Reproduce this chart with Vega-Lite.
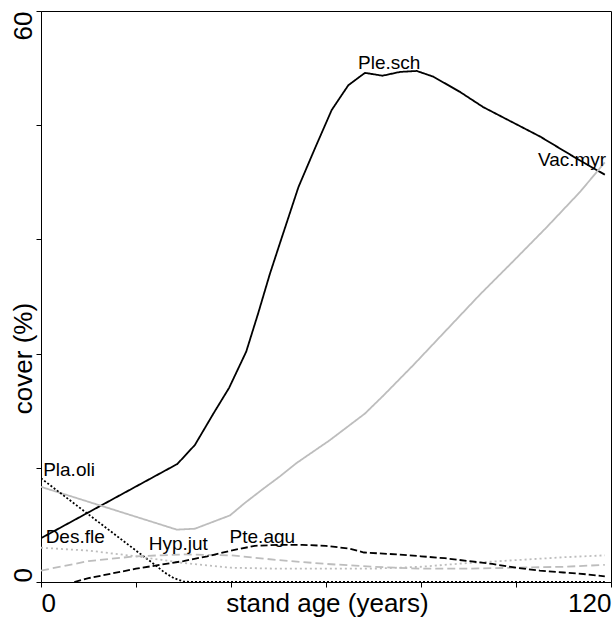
{
  "$schema": "https://vega.github.io/schema/vega-lite/v6.json",
  "width": 570,
  "height": 571,
  "autosize": {"type": "none"},
  "padding": {"left": 41, "top": 11, "right": 2, "bottom": 37},
  "background": "white",
  "config": {
    "font": "Liberation Sans",
    "view": {"stroke": "black", "strokeWidth": 1},
    "axis": {"grid": false, "domainColor": "black", "tickColor": "black", "labelColor": "black", "titleColor": "black", "labelFont": "Liberation Sans", "titleFont": "Liberation Sans", "titleFontWeight": "normal"}
  },
  "datasets": {
    "curves": [
      {"species": "Ple.sch", "age": 0, "cover": 4.6},
      {"species": "Ple.sch", "age": 28.7, "cover": 12.4},
      {"species": "Ple.sch", "age": 32.4, "cover": 14.4},
      {"species": "Ple.sch", "age": 36.3, "cover": 17.7},
      {"species": "Ple.sch", "age": 39.6, "cover": 20.4},
      {"species": "Ple.sch", "age": 43.2, "cover": 24.2},
      {"species": "Ple.sch", "age": 45.7, "cover": 28.2},
      {"species": "Ple.sch", "age": 48.2, "cover": 32.4},
      {"species": "Ple.sch", "age": 50.3, "cover": 35.6},
      {"species": "Ple.sch", "age": 54.2, "cover": 41.5},
      {"species": "Ple.sch", "age": 57.7, "cover": 45.6},
      {"species": "Ple.sch", "age": 61.2, "cover": 49.6},
      {"species": "Ple.sch", "age": 64.7, "cover": 52.2},
      {"species": "Ple.sch", "age": 68.2, "cover": 53.5},
      {"species": "Ple.sch", "age": 71.9, "cover": 53.2},
      {"species": "Ple.sch", "age": 75.6, "cover": 53.6},
      {"species": "Ple.sch", "age": 79.1, "cover": 53.7},
      {"species": "Ple.sch", "age": 82.6, "cover": 53.1},
      {"species": "Ple.sch", "age": 88.2, "cover": 51.5},
      {"species": "Ple.sch", "age": 93.1, "cover": 49.9},
      {"species": "Ple.sch", "age": 105.1, "cover": 46.8},
      {"species": "Ple.sch", "age": 112.1, "cover": 44.7},
      {"species": "Ple.sch", "age": 118.7, "cover": 42.8},
      {"species": "Vac.myr", "age": 0, "cover": 10.0},
      {"species": "Vac.myr", "age": 28.6, "cover": 5.5},
      {"species": "Vac.myr", "age": 32.4, "cover": 5.6},
      {"species": "Vac.myr", "age": 39.8, "cover": 7.0},
      {"species": "Vac.myr", "age": 42.9, "cover": 8.3},
      {"species": "Vac.myr", "age": 46.8, "cover": 9.8},
      {"species": "Vac.myr", "age": 50.3, "cover": 11.1},
      {"species": "Vac.myr", "age": 53.8, "cover": 12.5},
      {"species": "Vac.myr", "age": 60.8, "cover": 14.9},
      {"species": "Vac.myr", "age": 68.2, "cover": 17.7},
      {"species": "Vac.myr", "age": 72.1, "cover": 19.6},
      {"species": "Vac.myr", "age": 78.4, "cover": 22.8},
      {"species": "Vac.myr", "age": 85.4, "cover": 26.5},
      {"species": "Vac.myr", "age": 92.4, "cover": 30.2},
      {"species": "Vac.myr", "age": 99.4, "cover": 33.7},
      {"species": "Vac.myr", "age": 106.5, "cover": 37.3},
      {"species": "Vac.myr", "age": 113.5, "cover": 41.0},
      {"species": "Vac.myr", "age": 118.7, "cover": 44.1},
      {"species": "Pla.oli", "age": 0, "cover": 10.9},
      {"species": "Pla.oli", "age": 5, "cover": 9.0},
      {"species": "Pla.oli", "age": 10, "cover": 7.1},
      {"species": "Pla.oli", "age": 15, "cover": 5.2},
      {"species": "Pla.oli", "age": 20, "cover": 3.3},
      {"species": "Pla.oli", "age": 24, "cover": 1.8},
      {"species": "Pla.oli", "age": 26, "cover": 1.0},
      {"species": "Pla.oli", "age": 28, "cover": 0.4},
      {"species": "Pla.oli", "age": 30, "cover": 0.05},
      {"species": "Pla.oli", "age": 32, "cover": 0},
      {"species": "Pla.oli", "age": 60, "cover": 0},
      {"species": "Pla.oli", "age": 90, "cover": 0},
      {"species": "Pla.oli", "age": 118.7, "cover": 0},
      {"species": "Des.fle", "age": 0, "cover": 3.6},
      {"species": "Des.fle", "age": 10, "cover": 3.3},
      {"species": "Des.fle", "age": 20, "cover": 2.7},
      {"species": "Des.fle", "age": 30, "cover": 2.0},
      {"species": "Des.fle", "age": 40, "cover": 1.5},
      {"species": "Des.fle", "age": 50, "cover": 1.4},
      {"species": "Des.fle", "age": 60, "cover": 1.4},
      {"species": "Des.fle", "age": 70, "cover": 1.4},
      {"species": "Des.fle", "age": 80, "cover": 1.6},
      {"species": "Des.fle", "age": 90, "cover": 2.0},
      {"species": "Des.fle", "age": 100, "cover": 2.3},
      {"species": "Des.fle", "age": 110, "cover": 2.6},
      {"species": "Des.fle", "age": 118.7, "cover": 2.8},
      {"species": "Hyp.jut", "age": 0, "cover": 1.2},
      {"species": "Hyp.jut", "age": 10, "cover": 2.2},
      {"species": "Hyp.jut", "age": 20, "cover": 2.7},
      {"species": "Hyp.jut", "age": 30, "cover": 2.9},
      {"species": "Hyp.jut", "age": 40, "cover": 2.8},
      {"species": "Hyp.jut", "age": 50, "cover": 2.3},
      {"species": "Hyp.jut", "age": 60, "cover": 1.9},
      {"species": "Hyp.jut", "age": 70, "cover": 1.6},
      {"species": "Hyp.jut", "age": 80, "cover": 1.4},
      {"species": "Hyp.jut", "age": 90, "cover": 1.4},
      {"species": "Hyp.jut", "age": 100, "cover": 1.5},
      {"species": "Hyp.jut", "age": 110, "cover": 1.6},
      {"species": "Hyp.jut", "age": 118.7, "cover": 1.8},
      {"species": "Pte.agu", "age": 7, "cover": 0},
      {"species": "Pte.agu", "age": 10, "cover": 0.4},
      {"species": "Pte.agu", "age": 15, "cover": 0.9},
      {"species": "Pte.agu", "age": 20, "cover": 1.4},
      {"species": "Pte.agu", "age": 25, "cover": 1.8},
      {"species": "Pte.agu", "age": 30, "cover": 2.2},
      {"species": "Pte.agu", "age": 35, "cover": 2.7},
      {"species": "Pte.agu", "age": 40, "cover": 3.3},
      {"species": "Pte.agu", "age": 45, "cover": 3.8},
      {"species": "Pte.agu", "age": 50, "cover": 3.9},
      {"species": "Pte.agu", "age": 55, "cover": 3.9},
      {"species": "Pte.agu", "age": 60, "cover": 3.8},
      {"species": "Pte.agu", "age": 65, "cover": 3.5},
      {"species": "Pte.agu", "age": 68, "cover": 3.1},
      {"species": "Pte.agu", "age": 75, "cover": 2.9},
      {"species": "Pte.agu", "age": 80, "cover": 2.7},
      {"species": "Pte.agu", "age": 85, "cover": 2.5},
      {"species": "Pte.agu", "age": 90, "cover": 2.2},
      {"species": "Pte.agu", "age": 95, "cover": 1.9},
      {"species": "Pte.agu", "age": 100, "cover": 1.5},
      {"species": "Pte.agu", "age": 105, "cover": 1.2},
      {"species": "Pte.agu", "age": 110, "cover": 1.0},
      {"species": "Pte.agu", "age": 115, "cover": 0.8},
      {"species": "Pte.agu", "age": 118.7, "cover": 0.6}
    ],
    "labels": [
      {"species": "Ple.sch", "age": 73.3, "cover": 53.9},
      {"species": "Vac.myr", "age": 111.8, "cover": 43.7},
      {"species": "Pla.oli", "age": 5.9, "cover": 11.1},
      {"species": "Des.fle", "age": 7.2, "cover": 4.07},
      {"species": "Hyp.jut", "age": 28.9, "cover": 3.36},
      {"species": "Pte.agu", "age": 46.6, "cover": 4.07}
    ]
  },
  "layer": [
    {
      "data": {"name": "curves"},
      "mark": {"type": "line", "strokeWidth": 1.8, "clip": true},
      "encoding": {
        "x": {
          "field": "age", "type": "quantitative",
          "scale": {"domain": [0, 120], "nice": false, "zero": false},
          "axis": {
            "values": [0, 20, 40, 60, 80, 100, 120],
            "labelExpr": "datum.value == 0 || datum.value == 120 ? datum.label : ''",
            "labelFontSize": 26, "tickSize": 5, "labelPadding": 3,
            "labelAlign": {"condition": {"test": "datum.value == 0", "value": "left"}, "value": "right"},
            "labelBaseline": "top",
            "title": "stand age (years)", "titleFontSize": 26,
            "titleBaseline": "top", "titleY": 8, "titleX": 286, "titleAnchor": "middle"
          }
        },
        "y": {
          "field": "cover", "type": "quantitative",
          "scale": {"domain": [0, 60], "nice": false},
          "axis": {
            "values": [0, 12, 24, 36, 48, 60],
            "labelExpr": "datum.value == 0 || datum.value == 60 ? datum.label : ''",
            "labelFontSize": 26, "tickSize": 5, "labelPadding": 5, "labelAngle": 270,
            "labelAlign": {"condition": {"test": "datum.value == 0", "value": "left"}, "value": "right"},
            "labelBaseline": "alphabetic",
            "title": "cover (%)", "titleFontSize": 26, "titleAngle": 270,
            "titleBaseline": "alphabetic", "titleAlign": "center", "titleX": -10, "titleY": 347
          }
        },
        "detail": {"field": "species"},
        "color": {
          "field": "species", "type": "nominal", "legend": null,
          "scale": {"domain": ["Ple.sch", "Vac.myr", "Pla.oli", "Des.fle", "Hyp.jut", "Pte.agu"], "range": ["#000000", "#bdbdbd", "#000000", "#bdbdbd", "#bdbdbd", "#000000"]}
        },
        "strokeDash": {
          "field": "species", "type": "nominal", "legend": null,
          "scale": {"domain": ["Ple.sch", "Vac.myr", "Pla.oli", "Des.fle", "Hyp.jut", "Pte.agu"], "range": [[1, 0], [1, 0], [2, 2], [2, 3], [8, 4], [7, 3]]}
        }
      }
    },
    {
      "data": {"name": "labels"},
      "mark": {"type": "text", "fontSize": 19, "align": "center", "baseline": "alphabetic", "color": "black", "font": "Liberation Sans"},
      "encoding": {
        "x": {"field": "age", "type": "quantitative"},
        "y": {"field": "cover", "type": "quantitative"},
        "text": {"field": "species"}
      }
    }
  ]
}
